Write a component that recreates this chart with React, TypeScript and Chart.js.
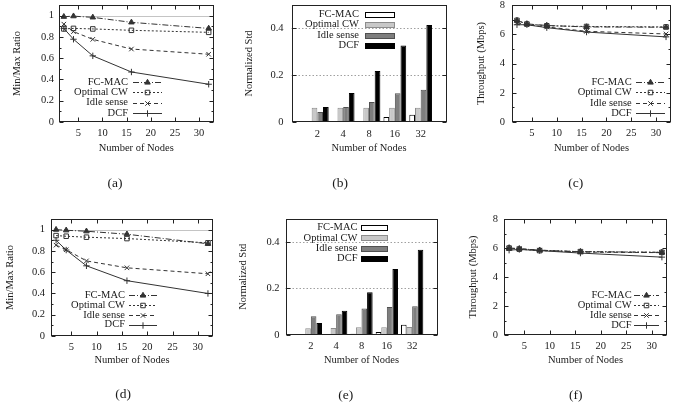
import React, { useEffect, useRef } from 'react';
import { Chart, registerables } from 'chart.js';
import { drawPoint } from 'chart.js/helpers';

Chart.register(...registerables);

// ---------------- data ----------------
const seriesNames = ['FC-MAC', 'Optimal CW', 'Idle sense', 'DCF'];
const nodes = [2, 4, 8, 16, 32];
const nodeLabels = ['2', '4', '8', '16', '32'];

// (a) Min/Max ratio
const ratioA_fcmac = [0.99, 0.995, 0.984, 0.937, 0.88];
const ratioA_optcw = [0.875, 0.88, 0.875, 0.862, 0.843];
const ratioA_idle = [0.92, 0.85, 0.777, 0.686, 0.637];
const ratioA_dcf = [0.88, 0.778, 0.622, 0.47, 0.355];

// (b) Normalized std
const stdB_fcmac = [0.003, 0.002, 0.004, 0.021, 0.031];
const stdB_optcw = [0.061, 0.061, 0.061, 0.061, 0.061];
const stdB_idle = [0.043, 0.064, 0.086, 0.123, 0.138];
const stdB_dcf = [0.064, 0.124, 0.218, 0.327, 0.415];

// (c) Throughput
const thrC_fcmac = [6.94, 6.71, 6.6, 6.5, 6.48];
const thrC_optcw = [6.95, 6.7, 6.58, 6.53, 6.5];
const thrC_idle = [6.78, 6.65, 6.5, 6.2, 6.02];
const thrC_dcf = [6.65, 6.65, 6.45, 6.15, 5.82];

// (d) Min/Max ratio
const ratioD_fcmac = [1.0, 0.994, 0.985, 0.957, 0.867];
const ratioD_optcw = [0.944, 0.938, 0.929, 0.916, 0.876];
const ratioD_idle = [0.854, 0.811, 0.706, 0.641, 0.585];
const ratioD_dcf = [0.9, 0.808, 0.66, 0.52, 0.4];

// (e) Normalized std
const stdE_fcmac = [0.001, 0.002, 0.005, 0.013, 0.044];
const stdE_optcw = [0.029, 0.03, 0.033, 0.033, 0.034];
const stdE_idle = [0.081, 0.089, 0.114, 0.12, 0.123];
const stdE_dcf = [0.051, 0.104, 0.184, 0.283, 0.366];

// (f) Throughput
const thrF_fcmac = [6.01, 5.95, 5.85, 5.75, 5.7];
const thrF_optcw = [6.0, 5.92, 5.82, 5.75, 5.7];
const thrF_idle = [5.95, 5.95, 5.85, 5.72, 5.68];
const thrF_dcf = [5.85, 5.9, 5.82, 5.65, 5.37];

// ticks
const xTicksLine = [5, 10, 15, 20, 25, 30];
const ratioTicks = [0, 0.2, 0.4, 0.6, 0.8, 1];
const ratioMinor = [0.1, 0.3, 0.5, 0.7, 0.9];
const stdTicks = [0, 0.2, 0.4];
const thrTicks = [0, 2, 4, 6, 8];
const thrMinor = [1, 3, 5, 7];

// ---------------- styles ----------------
const FONT = 'Liberation Serif';
const TXT = '#1a1a1a';
const LINE = '#333333';
const fontSpec = { family: FONT, size: 10.5, lineHeight: 1.2 };
const HX = 40;
const HALF_LH = 6.3;

Chart.defaults.font.family = FONT;

const lineStyles = [
  { dash: [6, 2, 1, 2], point: 'triangle', bg: LINE },
  { dash: [2, 2], point: 'rect', bg: 'rgba(255,255,255,0)' },
  { dash: [4, 3], point: 'crossRot', bg: 'rgba(255,255,255,0)' },
  { dash: [], point: 'cross', bg: 'rgba(255,255,255,0)' },
];
const barFills = ['#ffffff', '#c8c8c8', '#7e7e7e', '#000000'];
const barBorders = ['#000000', '#8c8c8c', '#505050', '#000000'];

type Spec = any;

const specs: Spec[] = [
  {
    key: 'a', kind: 'line', left: 0, top: 0, width: 230, height: 205,
    area: { l: 59, r: 213.5, t: 5, b: 122 },
    series: [ratioA_fcmac, ratioA_optcw, ratioA_idle, ratioA_dcf],
    yMin: 0, yMax: 1.1, yTicks: ratioTicks, yMinor: ratioMinor, yTitle: 'Min/Max Ratio',
    yTickPad: 5, yTitleX: 17, xTickPad: 5, xTitleY: 148, refLines: [1],
    legend: { textRight: 128, sx0: 133, sx1: 162, y0: 82, dy: 10.3 },
    caption: { text: '(a)', x: 115, y: 183 },
  },
  {
    key: 'b', kind: 'bar', left: 230, top: 0, width: 225, height: 205,
    area: { l: 61.5, r: 216.5, t: 5, b: 122 },
    series: [stdB_fcmac, stdB_optcw, stdB_idle, stdB_dcf],
    yMin: 0, yMax: 0.5, yTicks: stdTicks, yMinor: [], yTitle: 'Normalized Std',
    yTickPad: 8, yTitleX: 19, xTickPad: 6, xTitleY: 148, refLines: [0.2, 0.4],
    legend: { textRight: 129, sx0: 135, sx1: 164, y0: 14.3, dy: 10.4 },
    caption: { text: '(b)', x: 110, y: 183 },
  },
  {
    key: 'c', kind: 'line', left: 455, top: 0, width: 230, height: 205,
    area: { l: 57, r: 216, t: 5, b: 122 },
    series: [thrC_fcmac, thrC_optcw, thrC_idle, thrC_dcf],
    yMin: 0, yMax: 8, yTicks: thrTicks, yMinor: thrMinor, yTitle: 'Throughput (Mbps)',
    yTickPad: 7, yTitleX: 26.7, xTickPad: 5, xTitleY: 148, refLines: [],
    legend: { textRight: 176.7, sx0: 181, sx1: 210, y0: 82, dy: 10.4 },
    caption: { text: '(c)', x: 120.7, y: 183 },
  },
  {
    key: 'd', kind: 'line', left: 0, top: 205, width: 230, height: 205,
    area: { l: 51, r: 213, t: 14, b: 131 },
    series: [ratioD_fcmac, ratioD_optcw, ratioD_idle, ratioD_dcf],
    yMin: 0, yMax: 1.1, yTicks: ratioTicks, yMinor: ratioMinor, yTitle: 'Min/Max Ratio',
    yTickPad: 6, yTitleX: 10, xTickPad: 4.7, xTitleY: 155, refLines: [1],
    legend: { textRight: 125, sx0: 129, sx1: 157, y0: 90, dy: 9.9 },
    caption: { text: '(d)', x: 123, y: 189 },
  },
  {
    key: 'e', kind: 'bar', left: 230, top: 205, width: 225, height: 205,
    area: { l: 55.5, r: 207.5, t: 13.5, b: 130 },
    series: [stdE_fcmac, stdE_optcw, stdE_idle, stdE_dcf],
    yMin: 0, yMax: 0.5, yTicks: stdTicks, yMinor: [], yTitle: 'Normalized Std',
    yTickPad: 6, yTitleX: 13, xTickPad: 5.4, xTitleY: 155, refLines: [0.2, 0.4],
    legend: { textRight: 127.5, sx0: 131, sx1: 157, y0: 22.5, dy: 10.3 },
    caption: { text: '(e)', x: 115.7, y: 190 },
  },
  {
    key: 'f', kind: 'line', left: 455, top: 205, width: 230, height: 205,
    area: { l: 49, r: 212, t: 14, b: 130 },
    series: [thrF_fcmac, thrF_optcw, thrF_idle, thrF_dcf],
    yMin: 0, yMax: 8, yTicks: thrTicks, yMinor: thrMinor, yTitle: 'Throughput (Mbps)',
    yTickPad: 6, yTitleX: 18.3, xTickPad: 5.4, xTitleY: 155, refLines: [],
    legend: { textRight: 176.7, sx0: 179, sx1: 204, y0: 90, dy: 10 },
    caption: { text: '(f)', x: 120.7, y: 190 },
  },
];

// ---------------- plugin ----------------
function makeGp(spec: Spec) {
  return {
    id: 'gp',
    beforeDatasetsDraw(chart: any) {
      const { ctx, chartArea: a } = chart;
      const ys = chart.scales.y;
      ctx.save();
      ctx.strokeStyle = spec.kind === 'bar' ? '#a0a0a0' : '#c4c4c4';
      ctx.lineWidth = 1;
      ctx.setLineDash(spec.kind === 'bar' ? [1.5, 2] : []);
      spec.refLines.forEach((v: number) => {
        const y = Math.round(ys.getPixelForValue(v)) + 0.5;
        ctx.beginPath();
        ctx.moveTo(a.left, y);
        ctx.lineTo(a.right, y);
        ctx.stroke();
      });
      ctx.restore();
    },
    afterDraw(chart: any) {
      const { ctx, chartArea: a } = chart;
      const xs = chart.scales.x;
      const ys = chart.scales.y;
      ctx.save();
      ctx.setLineDash([]);
      ctx.strokeStyle = '#222';
      ctx.lineWidth = 1;
      const L = Math.round(a.left) + 0.5;
      const R = Math.round(a.right) - 0.5;
      const T = Math.round(a.top) + 0.5;
      const B = Math.round(a.bottom) - 0.5;
      ctx.strokeRect(L, T, R - L, B - T);
      ctx.beginPath();
      const yTick = (v: number, len: number) => {
        const y = Math.round(ys.getPixelForValue(v)) + 0.5;
        ctx.moveTo(L, y); ctx.lineTo(L + len, y);
        ctx.moveTo(R, y); ctx.lineTo(R - len, y);
      };
      spec.yTicks.forEach((v: number) => yTick(v, 4));
      spec.yMinor.forEach((v: number) => yTick(v, 2));
      if (spec.kind === 'line') {
        xTicksLine.forEach((v) => {
          const x = Math.round(xs.getPixelForValue(v)) + 0.5;
          ctx.moveTo(x, B); ctx.lineTo(x, B - 4);
          ctx.moveTo(x, T); ctx.lineTo(x, T + 4);
        });
      }
      ctx.stroke();

      // legend
      const lg = spec.legend;
      ctx.font = `10.5px "${FONT}"`;
      ctx.textAlign = 'right';
      ctx.textBaseline = 'middle';
      chart.data.datasets.forEach((ds: any, i: number) => {
        const y = lg.y0 + i * lg.dy;
        ctx.fillStyle = TXT;
        ctx.fillText(ds.label, lg.textRight, y);
        if (spec.kind === 'line') {
          ctx.strokeStyle = ds.borderColor;
          ctx.lineWidth = 1;
          ctx.setLineDash(ds.borderDash);
          ctx.beginPath();
          ctx.moveTo(lg.sx0, Math.round(y) + 0.5);
          ctx.lineTo(lg.sx1, Math.round(y) + 0.5);
          ctx.stroke();
          ctx.setLineDash([]);
          ctx.fillStyle = ds.pointBackgroundColor;
          ctx.strokeStyle = ds.pointBorderColor;
          drawPoint(ctx, { pointStyle: ds.pointStyle, radius: ds.pointRadius, borderWidth: 1, rotation: 0 }, (lg.sx0 + lg.sx1) / 2, Math.round(y) + 0.5);
        } else {
          const h = 5;
          const top = Math.round(y - h / 2);
          ctx.fillStyle = ds.backgroundColor;
          ctx.fillRect(lg.sx0, top, lg.sx1 - lg.sx0, h);
          ctx.strokeStyle = ds.borderColor;
          ctx.lineWidth = 1;
          ctx.strokeRect(Math.round(lg.sx0) + 0.5, top + 0.5, Math.round(lg.sx1 - lg.sx0), h);
        }
      });

      // caption
      ctx.fillStyle = TXT;
      ctx.font = `13.5px "${FONT}"`;
      ctx.textAlign = 'center';
      ctx.textBaseline = 'middle';
      ctx.fillText(spec.caption.text, spec.caption.x, spec.caption.y);
      ctx.restore();
    },
  };
}

// ---------------- config ----------------
function buildConfig(spec: Spec): any {
  const a = spec.area;
  const isLine = spec.kind === 'line';
  const zeroPad = (s: any) => { s.paddingLeft = 0; s.paddingRight = 0; s.paddingTop = 0; s.paddingBottom = 0; };

  const datasets = spec.series.map((vals: number[], i: number) => {
    if (isLine) {
      const st = lineStyles[i];
      return {
        label: seriesNames[i],
        data: nodes.map((x, j) => ({ x, y: vals[j] })),
        borderColor: LINE,
        borderWidth: 1,
        borderDash: st.dash,
        pointStyle: st.point,
        pointRadius: 3.2,
        pointBorderWidth: 1,
        pointBackgroundColor: st.bg,
        pointBorderColor: LINE,
        fill: false,
        tension: 0,
      };
    }
    return {
      label: seriesNames[i],
      data: [null, ...vals, null],
      backgroundColor: barFills[i],
      borderColor: barBorders[i],
      borderWidth: 1,
      borderSkipped: false,
      barPercentage: 1,
      categoryPercentage: 0.88,
    };
  });

  const xScale: any = {
    grid: { display: false, drawTicks: false },
    border: { display: false },
    ticks: { font: fontSpec, color: TXT, padding: spec.xTickPad, maxRotation: 0, minRotation: 0, autoSkip: false },
    title: {
      display: true, text: 'Number of Nodes', font: fontSpec, color: TXT,
      padding: { top: 0, bottom: a.b + HX - HALF_LH - spec.xTitleY },
    },
    afterFit: (s: any) => { s.height = HX; zeroPad(s); },
  };
  if (isLine) {
    xScale.type = 'linear';
    xScale.min = 1;
    xScale.max = 33;
    xScale.afterBuildTicks = (s: any) => { s.ticks = xTicksLine.map((v) => ({ value: v })); };
    xScale.ticks.callback = (v: any) => String(v);
  } else {
    xScale.type = 'category';
    xScale.offset = false;
  }

  const yScale: any = {
    type: 'linear',
    min: spec.yMin,
    max: spec.yMax,
    afterBuildTicks: (s: any) => { s.ticks = spec.yTicks.map((v: number) => ({ value: v })); },
    grid: { display: false, drawTicks: false },
    border: { display: false },
    ticks: { font: fontSpec, color: TXT, padding: spec.yTickPad, callback: (v: any) => String(v) },
    title: {
      display: true, text: spec.yTitle, font: fontSpec, color: TXT,
      padding: { top: spec.yTitleX - HALF_LH, bottom: 0 },
    },
    afterFit: (s: any) => { s.width = a.l; zeroPad(s); },
  };

  return {
    type: isLine ? 'line' : 'bar',
    data: isLine ? { datasets } : { labels: ['', ...nodeLabels, ''], datasets },
    options: {
      responsive: false,
      animation: false,
      events: [],
      layout: { padding: { left: 0, top: a.t, right: spec.width - a.r, bottom: spec.height - a.b - HX } },
      plugins: { legend: { display: false }, tooltip: { enabled: false }, title: { display: false } },
      scales: { x: xScale, y: yScale },
    },
    plugins: [makeGp(spec)],
  };
}

function Panel({ spec }: { spec: Spec }) {
  const ref = useRef<HTMLCanvasElement | null>(null);
  useEffect(() => {
    if (!ref.current) return;
    const chart = new Chart(ref.current, buildConfig(spec));
    return () => chart.destroy();
  }, [spec]);
  return (
    <canvas
      ref={ref}
      width={spec.width}
      height={spec.height}
      style={{ position: 'absolute', left: spec.left, top: spec.top, width: spec.width, height: spec.height }}
    />
  );
}

export default function App() {
  return (
    <div style={{ position: 'absolute', left: 0, top: 0, width: 685, height: 410, background: '#ffffff', overflow: 'hidden' }}>
      {specs.map((s) => (
        <Panel key={s.key} spec={s} />
      ))}
    </div>
  );
}
